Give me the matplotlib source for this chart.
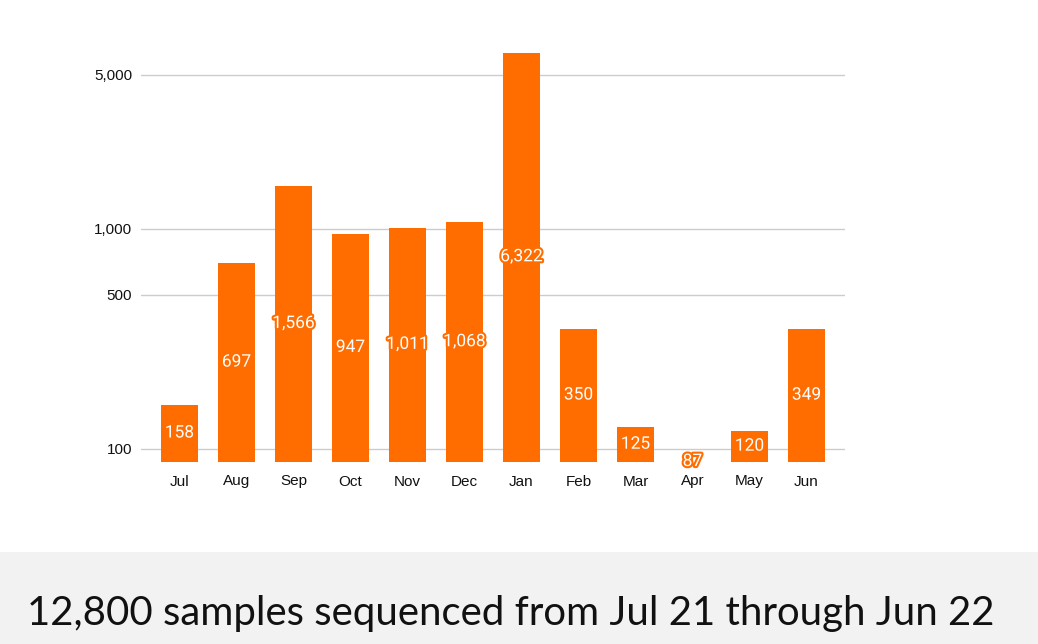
import matplotlib.pyplot as plt
import matplotlib.patheffects as pe
from matplotlib.ticker import FixedLocator, FuncFormatter
import numpy as np

months = ["Jul", "Aug", "Sep", "Oct", "Nov", "Dec", "Jan", "Feb", "Mar", "Apr", "May", "Jun"]
samples = [158, 697, 1566, 947, 1011, 1068, 6322, 350, 125, 87, 120, 349]
yticks = [100, 500, 1000, 5000]
caption = "12,800 samples sequenced from Jul 21 through Jun 22"

orange = "#ff6d01"
W, H = 1038, 644
fig = plt.figure(figsize=(W / 100, H / 100), dpi=100)

# plot area in pixel terms
left, right, top, bottom = 141, 845, 30, 462
ax = fig.add_axes([left / W, 1 - bottom / H, (right - left) / W, (bottom - top) / H])

# axis floor sits at the smallest value, so that bar is flat
ymin = min(samples)
dec = (bottom - top) / (np.log10(10 ** (2 + (448 - top) / 220)) - np.log10(ymin))
ymax = 10 ** (np.log10(ymin) + (bottom - top) / 220)
ax.set_yscale("log")
ax.set_ylim(ymin, ymax)
ax.set_xlim(-0.675, 11.675)

x = np.arange(len(months))
ax.bar(x, [v - ymin for v in samples], bottom=ymin, width=0.65, color=orange, zorder=2)

for xi, v in zip(x, samples):
    ymid = np.sqrt(ymin * v) * 1.005
    ax.text(xi, ymid, f"{v:,}", ha="center", va="center", color="white",
            fontsize=12.5, family="Roboto", zorder=3,
            path_effects=[pe.withStroke(linewidth=3, foreground=orange)])

ax.yaxis.set_major_locator(FixedLocator(yticks))
ax.yaxis.set_minor_locator(FixedLocator([]))
ax.yaxis.set_major_formatter(FuncFormatter(lambda v, p: f"{int(v):,}"))
ax.grid(axis="y", color="#cccccc", linewidth=1, zorder=0)
ax.set_xticks(x)
ax.set_xticklabels(months)
ax.tick_params(length=0, labelsize=11, labelcolor="#111111")
ax.tick_params(axis="x", pad=9)
ax.tick_params(axis="y", pad=6.5)
for lab in ax.get_xticklabels() + ax.get_yticklabels():
    lab.set_family("Liberation Sans")
for s in ax.spines.values():
    s.set_visible(False)

# caption band
band = fig.add_axes([0, 0, 1, 92 / H])
band.set_facecolor("#f2f2f2")
band.set_xticks([])
band.set_yticks([])
for s in band.spines.values():
    s.set_visible(False)
band.text(27 / W, 0.33, caption, transform=band.transAxes, ha="left", va="center",
          fontsize=28.9, family="Lato", color="#111111")

fig.savefig("out.png", dpi=100)
